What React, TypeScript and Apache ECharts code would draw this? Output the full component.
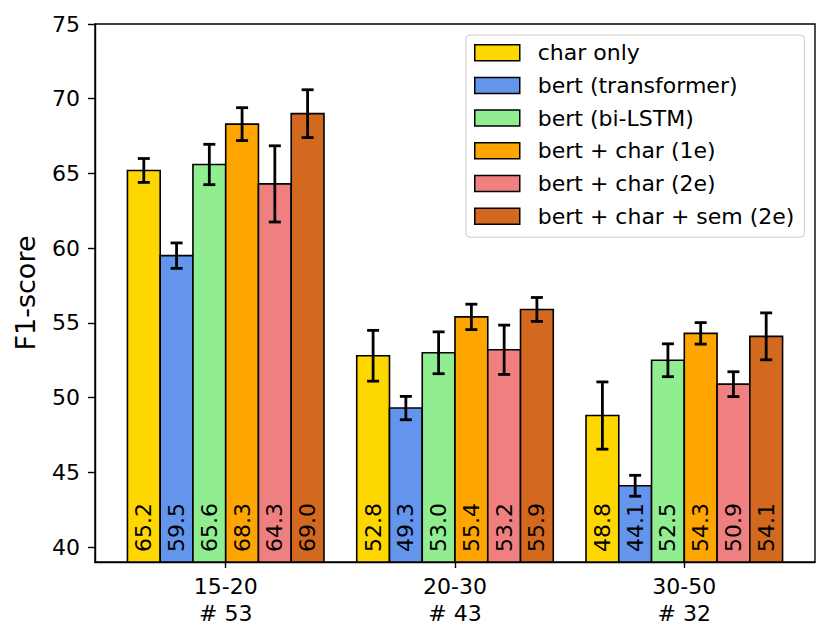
import React, { useEffect, useRef } from "react";
import * as echarts from "echarts";

const tickLabels = ["15-20\n# 53", "20-30\n# 43", "30-50\n# 32"];
const seriesNames = [
  "char only",
  "bert (transformer)",
  "bert (bi-LSTM)",
  "bert + char (1e)",
  "bert + char (2e)",
  "bert + char + sem (2e)",
];
const seriesColors = ["#FFD700", "#6495ED", "#90EE90", "#FFA500", "#F08080", "#D2691E"];

const charOnly = [65.2, 52.8, 48.8];
const bertTransformer = [59.5, 49.3, 44.1];
const bertLSTM = [65.6, 53.0, 52.5];
const bertChar1e = [68.3, 55.4, 54.3];
const bertChar2e = [64.3, 53.2, 50.9];
const bertCharSem2e = [69.0, 55.9, 54.1];

const charOnlyErr = [0.8, 1.7, 2.25];
const bertTransformerErr = [0.85, 0.78, 0.7];
const bertLSTMErr = [1.35, 1.4, 1.1];
const bertChar1eErr = [1.1, 0.85, 0.72];
const bertChar2eErr = [2.55, 1.65, 0.83];
const bertCharSem2eErr = [1.6, 0.8, 1.57];

const yTicks = [40, 45, 50, 55, 60, 65, 70, 75];

const allValues = [charOnly, bertTransformer, bertLSTM, bertChar1e, bertChar2e, bertCharSem2e];
const allErrs = [charOnlyErr, bertTransformerErr, bertLSTMErr, bertChar1eErr, bertChar2eErr, bertCharSem2eErr];

const Y_MIN = 39;
const Y_MAX = 75;
const BAR_W = 1 / 7;
const FONT = "DejaVu Sans";
const FS = 22;

export default function App() {
  const ref = useRef<HTMLDivElement>(null);
  useEffect(() => {
    document.body.style.margin = "0";
    const chart = echarts.init(ref.current!, null, { renderer: "svg" });
    const series = seriesNames.map((name, k) => {
      const offset = (k - 2.5) * BAR_W;
      return {
        type: "custom",
        name,
        itemStyle: { color: seriesColors[k], borderColor: "#000", borderWidth: 1.5 },
        data: allValues[k].map((v, gi) => [gi, v, allErrs[k][gi]]),
        clip: false,
        renderItem: (params: any, api: any) => {
          const gi = api.value(0);
          const v = api.value(1);
          const e = api.value(2);
          const xc = gi + offset;
          const p0 = api.coord([xc - BAR_W / 2, v]);
          const p1 = api.coord([xc + BAR_W / 2, Y_MIN]);
          const top = api.coord([xc, v + e]);
          const bot = api.coord([xc, v - e]);
          const cx = (p0[0] + p1[0]) / 2;
          const cap = 6;
          const lineStyle = { stroke: "#000", lineWidth: 2.8 };
          return {
            type: "group",
            children: [
              {
                type: "rect",
                shape: { x: p0[0], y: p0[1], width: p1[0] - p0[0], height: p1[1] - p0[1] },
                style: { fill: seriesColors[k], stroke: "#000", lineWidth: 1.6 },
              },
              { type: "line", shape: { x1: cx, y1: top[1], x2: cx, y2: bot[1] }, style: lineStyle },
              { type: "line", shape: { x1: cx - cap, y1: top[1], x2: cx + cap, y2: top[1] }, style: lineStyle },
              { type: "line", shape: { x1: cx - cap, y1: bot[1], x2: cx + cap, y2: bot[1] }, style: lineStyle },
              {
                type: "text",
                x: cx,
                y: p1[1] - 10,
                rotation: Math.PI / 2,
                style: {
                  text: v.toFixed(1),
                  x: 0,
                  y: 0,
                  align: "left",
                  verticalAlign: "middle",
                  fontSize: FS,
                  fontFamily: FONT,
                  fill: "#000",
                },
              },
            ],
          };
        },
      };
    });

    chart.setOption({
      animation: false,
      backgroundColor: "#fff",
      grid: {
        left: 95,
        right: 16,
        top: 24,
        bottom: 79,
        show: true,
        borderColor: "#000",
        borderWidth: 1.4,
        backgroundColor: "transparent",
      },
      legend: {
        orient: "vertical",
        left: 466,
        top: 35,
        itemWidth: 45,
        itemHeight: 16,
        itemGap: 10.7,
        padding: [6.7, 10, 10, 8],
        backgroundColor: "rgba(255,255,255,0.8)",
        borderColor: "#cccccc",
        borderWidth: 1,
        borderRadius: 4,
        selectedMode: false,
        icon: "rect",
        textStyle: {
          fontSize: FS,
          lineHeight: 22,
          fontFamily: FONT,
          color: "#000",
          padding: [0, 0, 0, 13],
        },
        data: seriesNames.map((name, k) => ({
          name,
          itemStyle: { color: seriesColors[k], borderColor: "#000", borderWidth: 1.5 },
        })),
      },
      xAxis: {
        type: "value",
        min: -0.57,
        max: 2.57,
        splitLine: { show: false },
        axisLine: { show: true, onZero: false, lineStyle: { color: "#000", width: 1.4 } },
        axisTick: {
          show: true,
          length: 6,
          lineStyle: { color: "#000", width: 1.4 },
          customValues: [0, 1, 2],
        },
        axisLabel: {
          customValues: [0, 1, 2],
          formatter: (v: number) => tickLabels[Math.round(v)] ?? "",
          fontSize: FS,
          lineHeight: 27,
          margin: 11,
          fontFamily: FONT,
          color: "#000",
        },
      },
      yAxis: {
        type: "value",
        min: Y_MIN,
        max: Y_MAX,
        name: "F1-score",
        nameLocation: "middle",
        nameGap: 56,
        nameTextStyle: { fontSize: 27, fontFamily: FONT, color: "#000" },
        splitLine: { show: false },
        axisLine: { show: true, onZero: false, lineStyle: { color: "#000", width: 1.4 } },
        axisTick: {
          show: true,
          length: 7,
          lineStyle: { color: "#000", width: 1.4 },
          customValues: yTicks,
        },
        axisLabel: {
          customValues: yTicks,
          fontSize: FS,
          margin: 15,
          fontFamily: FONT,
          color: "#000",
        },
      },
      series,
    });
    return () => chart.dispose();
  }, []);
  return <div ref={ref} style={{ width: 831, height: 641 }} />;
}
